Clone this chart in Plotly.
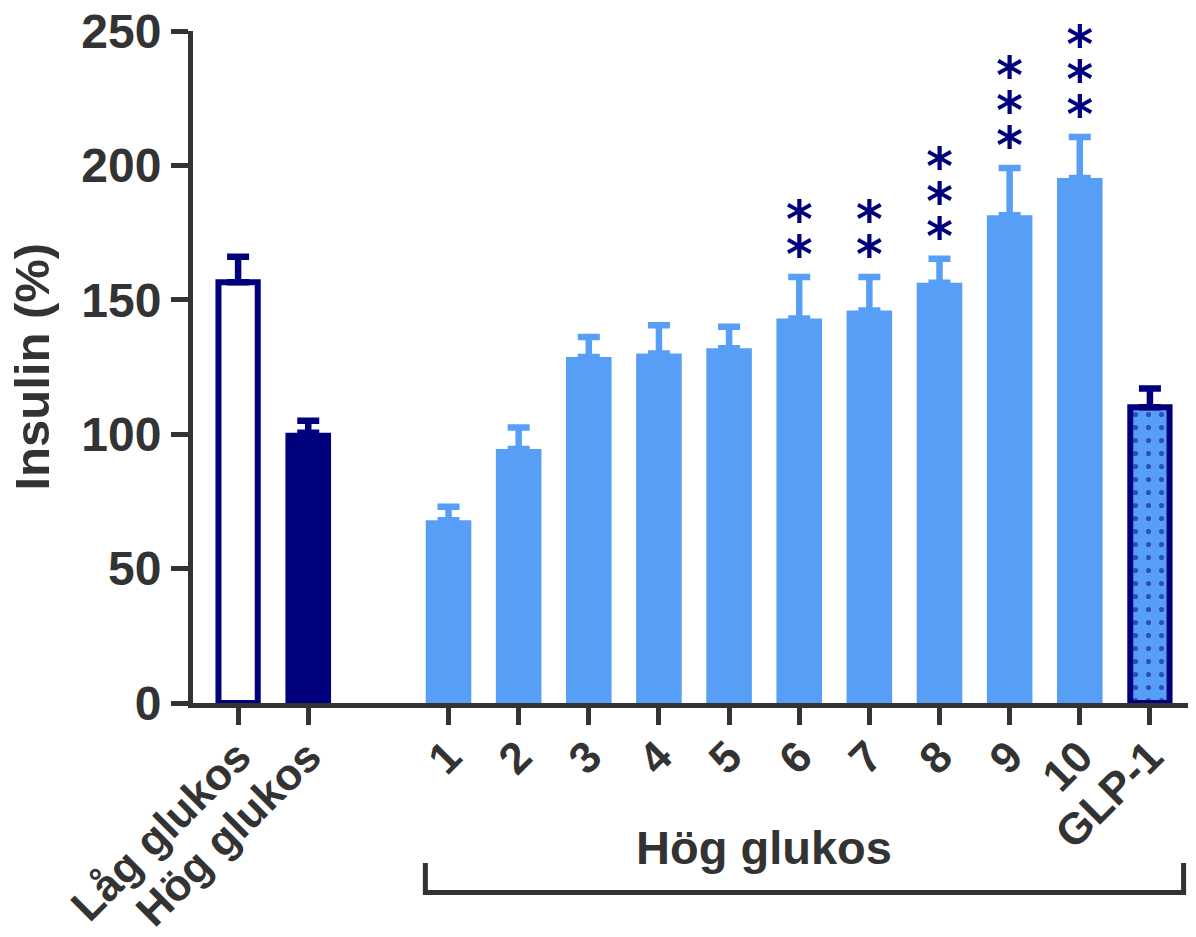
import plotly.graph_objects as go

# ---------------- data ----------------
labels = ["Låg glukos", "Hög glukos", "1", "2", "3", "4", "5", "6", "7", "8", "9", "10", "GLP-1"]
means = [156.5, 100.5, 68.0, 94.5, 128.7, 130.0, 132.0, 143.0, 146.0, 156.3, 181.5, 195.3, 110.0]
sem = [9.5, 4.5, 5.0, 8.0, 7.5, 10.5, 8.0, 15.5, 12.5, 9.0, 17.5, 15.3, 7.0]
stars = [0, 0, 0, 0, 0, 0, 0, 2, 2, 3, 3, 3, 0]
y_ticks = [0, 50, 100, 150, 200, 250]
group_label = "Hög glukos"
y_title = "Insulin (%)"

# ---------------- styling ----------------
NAVY = "#00007c"
LIGHT = "#579ff6"
AX = "#333333"
FONT = "Liberation Sans, Arial, sans-serif"

# slot positions: two controls, one empty slot, then the treatment group
x_pos = [0, 1] + [3 + i for i in range(len(labels) - 2)]

fig = go.Figure()

def add_bars(idx, width, fill, line_w, err_color, pattern=None):
    marker = dict(color=fill, line=dict(color=NAVY, width=line_w))
    if pattern:
        marker["pattern"] = pattern
    fig.add_trace(go.Bar(
        x=[x_pos[i] for i in idx],
        y=[means[i] for i in idx],
        width=width,
        marker=marker,
        error_y=dict(type="data", array=[sem[i] for i in idx],
                     arrayminus=[0] * len(idx), symmetric=False,
                     color=err_color, thickness=6.5, width=11),
        showlegend=False, hoverinfo="skip",
    ))

# Låg glukos: white bar with navy outline
add_bars([0], 0.56, "white", 6, NAVY)
# Hög glukos: solid navy
add_bars([1], 0.65, NAVY, 0, NAVY)
# numbered treatments: light blue
add_bars(list(range(2, 12)), 0.65, LIGHT, 0, LIGHT)
# GLP-1: light blue dotted with navy outline
add_bars([12], 0.56, LIGHT, 6, NAVY,
         pattern=dict(shape=".", fgcolor=NAVY, bgcolor=LIGHT, size=13, solidity=0.12))

# significance stars
sx, sy = [], []
for i, n in enumerate(stars):
    for k in range(n):
        sx.append(x_pos[i])
        sy.append(means[i] + sem[i] + 6.6 + 13.0 * k)
fig.add_trace(go.Scatter(
    x=sx, y=sy, mode="text", text=["*"] * len(sx),
    textfont=dict(family="DejaVu Sans", size=51, color=NAVY, weight=700),
    textposition="middle center", cliponaxis=False,
    showlegend=False, hoverinfo="skip",
))

# bracket under the treatment group
x0 = x_pos[2] - 0.33
x1 = x_pos[-1] + 0.48
fig.add_shape(type="path", xref="x", yref="paper",
              path=f"M {x0},-0.238 L {x0},-0.282 L {x1},-0.282 L {x1},-0.238",
              line=dict(color=AX, width=5))
fig.add_annotation(x=7.50, y=-0.215, xref="x", yref="paper", text=group_label,
                   showarrow=False, font=dict(family=FONT, size=47, color=AX, weight=700),
                   xanchor="center", yanchor="middle")

# y title
fig.add_annotation(x=-0.161, y=0.50, xref="paper", yref="paper", text=y_title,
                   textangle=-90, showarrow=False,
                   font=dict(family=FONT, size=49, color=AX, weight=700),
                   xanchor="center", yanchor="middle")

# the page body has an 8px margin, so the figure is placed 8px in from the top-left
fig.update_layout(
    width=1188, height=929,
    margin=dict(l=185, r=0, t=23, b=234),
    paper_bgcolor="white", plot_bgcolor="white",
    barmode="overlay",
    font=dict(family=FONT, color=AX),
    xaxis=dict(
        range=[-0.643, 13.657], tickmode="array", tickvals=x_pos, ticktext=labels,
        tickangle=-45, tickfont=dict(family=FONT, size=44, color=AX, weight=700),
        showline=True, linecolor=AX, linewidth=5, ticks="outside", ticklen=17,
        tickwidth=5, tickcolor=AX, showgrid=False, zeroline=False, automargin=False,
        ticklabeloverflow="allow", ticklabelstandoff=-12,
    ),
    yaxis=dict(
        range=[0, 250], tickmode="array", tickvals=y_ticks,
        tickfont=dict(family=FONT, size=48, color=AX, weight=700),
        showline=True, linecolor=AX, linewidth=5, ticks="outside", ticklen=17,
        tickwidth=5, tickcolor=AX, showgrid=False, zeroline=False, automargin=False,
        ticklabeloverflow="allow",
    ),
)

fig.write_html("out.html")
